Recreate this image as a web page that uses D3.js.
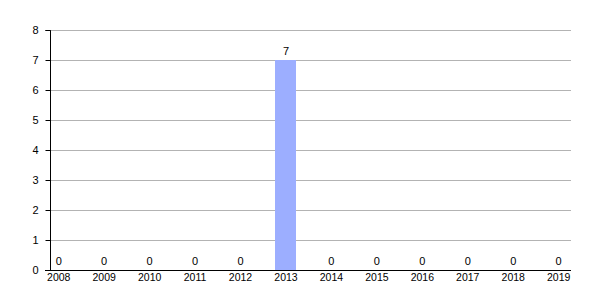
<!DOCTYPE html>
<html><head><meta charset="utf-8">
<script src="https://cdn.jsdelivr.net/npm/d3@7"></script>
<style>body{margin:0;background:#fff}svg{display:block}text{font-family:"Liberation Sans",Arial,sans-serif;}</style>
</head><body><svg id="c" width="600" height="300"></svg>
<script>
const categories = ["2008","2009","2010","2011","2012","2013","2014","2015","2016","2017","2018","2019"];
const values = [0,0,0,0,0,7,0,0,0,0,0,0];
const yTicks = [0,1,2,3,4,5,6,7,8];

(function(){
const svg = d3.select("#c");
const plotL = 50, plotR = 571, plotTop = 30, plotBottom = 270;
const x = d3.scaleBand().domain(categories).range([36, 581.4]).padding(0);
const y = d3.scaleLinear().domain([0, 8]).range([plotBottom, plotTop]);

svg.append("g").selectAll("line").data(yTicks.filter(d => d > 0)).join("line")
  .attr("x1", plotL).attr("x2", plotR)
  .attr("y1", d => y(d) + 0.5).attr("y2", d => y(d) + 0.5)
  .attr("stroke", "#b3b3b3").attr("stroke-width", 1);

const bw = 21;
svg.append("g").selectAll("rect").data(values).join("rect")
  .attr("x", (d, i) => Math.round(x(categories[i]) + x.bandwidth() / 2 - bw / 2))
  .attr("width", bw)
  .attr("y", d => y(d))
  .attr("height", d => plotBottom - y(d))
  .attr("fill", "#9caeff");

svg.append("g").selectAll("text").data(values).join("text")
  .attr("x", (d, i) => x(categories[i]) + x.bandwidth() / 2)
  .attr("y", d => y(d) - 5)
  .attr("text-anchor", "middle")
  .attr("font-size", 11).attr("fill", "#000")
  .text(d => d);

const yAxis = d3.axisLeft(y).tickValues(yTicks).tickSize(5).tickPadding(7).tickFormat(d3.format("d"));
const gy = svg.append("g").attr("transform", `translate(${plotL + 0.5},0)`).call(yAxis);
gy.select(".domain").attr("d", `M-5,${plotTop + 0.5}H0V${plotBottom}`).attr("stroke", "#000");
gy.selectAll(".tick line").attr("stroke", "#000");
gy.selectAll(".tick text").attr("font-size", 11).attr("font-family", '"Liberation Sans",Arial,sans-serif').attr("fill", "#000");

const xAxis = d3.axisBottom(x).tickSize(0).tickPadding(3);
const gx = svg.append("g").attr("transform", `translate(0,${plotBottom + 0.5})`).call(xAxis);
gx.select(".domain").attr("d", `M45,0H${plotR}`).attr("stroke", "#000");
gx.selectAll(".tick text").attr("font-size", 10.5).attr("font-family", '"Liberation Sans",Arial,sans-serif').attr("fill", "#000");
})();
</script></body></html>
